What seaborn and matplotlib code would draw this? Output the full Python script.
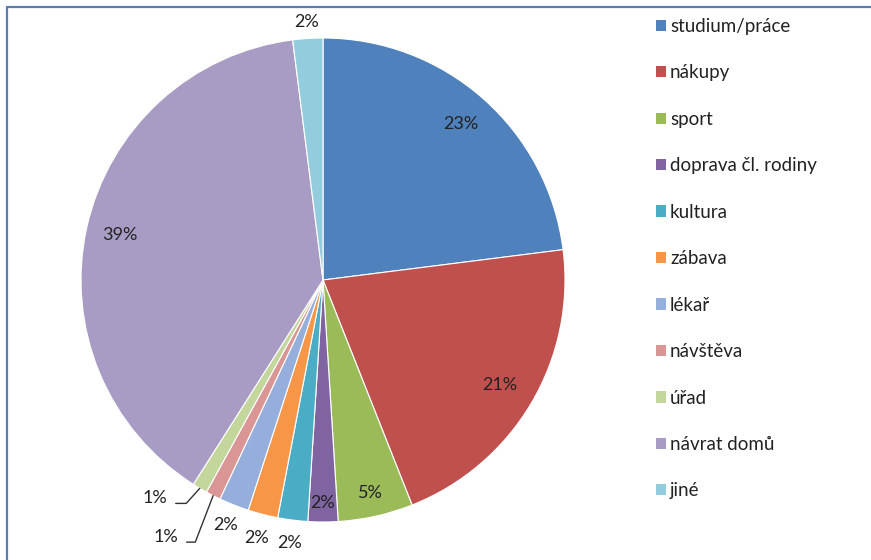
import numpy as np
import matplotlib
matplotlib.use("Agg")
import matplotlib.pyplot as plt
from matplotlib.patches import Patch
from matplotlib.lines import Line2D
import seaborn as sns

# Trip purposes and their shares (%)
categories = ["studium/práce", "nákupy", "sport", "doprava čl. rodiny", "kultura",
              "zábava", "lékař", "návštěva", "úřad", "návrat domů", "jiné"]
shares = [23, 21, 5, 2, 2, 2, 2, 1, 1, 39, 2]
colors = ["#4F81BD", "#C0504D", "#9BBB59", "#8064A2", "#4BACC6", "#F79646",
          "#95AEDB", "#D99694", "#C3D69B", "#A99CC4", "#93CDDD"]

# how far from the centre each percentage label sits (fraction of radius);
# None means the label is drawn outside with a leader line
label_dist = [0.86, 0.85, 0.90, 0.92, 1.095, 1.10, 1.09, None, None, 0.86, 1.07]

sns.set_style("white")
plt.rcParams["font.family"] = ["Lato", "DejaVu Sans"]

fig = plt.figure(figsize=(8.71, 5.6), dpi=100)
W, H = 871, 560
cx, cy, r = 323, 280, 242
ax = fig.add_axes([(cx - r) / W, (H - cy - r) / H, 2 * r / W, 2 * r / H])

wedges, _ = ax.pie(shares, colors=colors, startangle=90, counterclock=False,
                   wedgeprops=dict(edgecolor="white", linewidth=0.8), radius=1.0)
ax.set_xlim(-1, 1)
ax.set_ylim(-1, 1)
ax.set_aspect("equal")
ax.axis("off")

total = float(sum(shares))
cum = np.cumsum([0] + shares)
txt_color = "#222222"
fs = 13

leader_text = {7: (-0.60, -1.06, 69), 8: (-0.645, -0.90, 48)}

for i, v in enumerate(shares):
    mid = (cum[i] + v / 2.0) / total
    theta = np.deg2rad(90 - 360 * mid)
    lbl = f"{v}%"
    d = label_dist[i]
    if d is not None:
        ax.text(d * np.cos(theta), d * np.sin(theta), lbl, ha="center", va="center",
                fontsize=fs, color=txt_color, clip_on=False)
    else:
        tx, ty, angB = leader_text[i]
        ax.annotate(lbl, xy=(np.cos(theta), np.sin(theta)), xytext=(tx, ty),
                    ha="right", va="center", fontsize=fs, color=txt_color,
                    annotation_clip=False,
                    arrowprops=dict(arrowstyle="-", color="#333333", lw=1.0,
                                    relpos=(1.0, 0.15), shrinkA=4, shrinkB=0,
                                    connectionstyle=f"angle,angleA=0,angleB={angB},rad=0"))

leg_fs = 13.5
handles = [Patch(facecolor=c, edgecolor="none") for c in colors]
leg = fig.legend(handles, categories, loc="upper left",
                 bbox_to_anchor=(648.5 / W, 1 - 10.5 / H), frameon=False,
                 fontsize=leg_fs, handlelength=0.55, handleheight=0.55,
                 handletextpad=0.2, labelspacing=1.57, borderaxespad=0)
for t in leg.get_texts():
    t.set_color(txt_color)

# chart area border along the top and left edges
border = "#5B7DB1"
fig.add_artist(Line2D([6.5 / W, 6.5 / W], [0, 1 - 6.5 / H], transform=fig.transFigure,
                      color=border, lw=1.6))
fig.add_artist(Line2D([6.5 / W, 1.01], [1 - 6.5 / H, 1 - 6.5 / H], transform=fig.transFigure,
                      color=border, lw=1.6))

fig.savefig("out.png", dpi=100, facecolor="white")
